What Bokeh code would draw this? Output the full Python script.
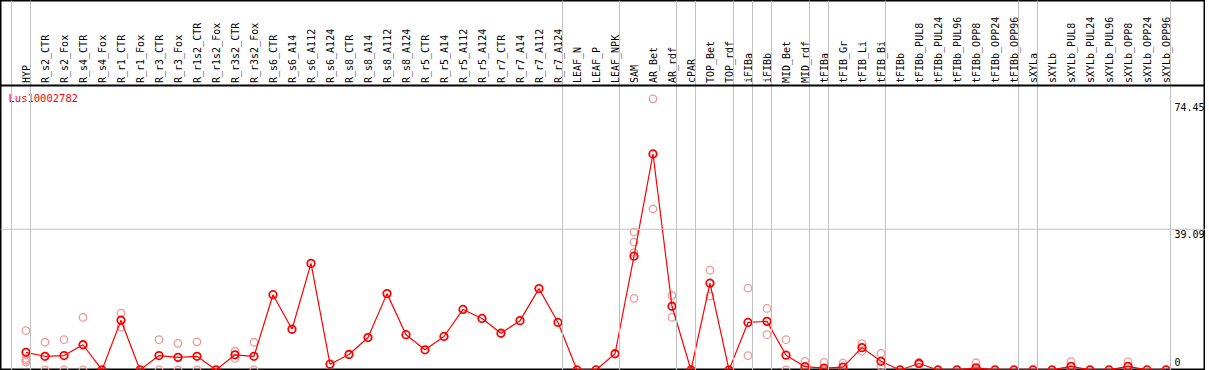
import math
from bokeh.plotting import figure
from bokeh.models import Range1d, Span, ColumnDataSource
from bokeh.core.properties import value
from bokeh.embed import file_html
from bokeh.resources import INLINE

# ---------------- data ----------------
title = "Lus10002782"
categories = [
    "HYP",
    "R_s2_CTR", "R_s2_Fox", "R_s4_CTR", "R_s4_Fox", "R_r1_CTR", "R_r1_Fox",
    "R_r3_CTR", "R_r3_Fox", "R_r1s2_CTR", "R_r1s2_Fox", "R_r3s2_CTR", "R_r3s2_Fox",
    "R_s6_CTR", "R_s6_A14", "R_s6_A112", "R_s6_A124",
    "R_s8_CTR", "R_s8_A14", "R_s8_A112", "R_s8_A124",
    "R_r5_CTR", "R_r5_A14", "R_r5_A112", "R_r5_A124",
    "R_r7_CTR", "R_r7_A14", "R_r7_A112", "R_r7_A124",
    "LEAF_N", "LEAF_P", "LEAF_NPK",
    "SAM", "AR_Bet", "AR_rdf", "cPAR", "TOP_Bet", "TOP_rdf",
    "iFIBa", "iFIBb", "MID_Bet", "MID_rdf",
    "tFIBa", "tFIB_Gr", "tFIB_Li", "tFIB_Bi",
    "tFIBb", "tFIBb_PUL8", "tFIBb_PUL24", "tFIBb_PUL96", "tFIBb_OPP8", "tFIBb_OPP24", "tFIBb_OPP96",
    "sXYLa", "sXYLb", "sXYLb_PUL8", "sXYLb_PUL24", "sXYLb_PUL96", "sXYLb_OPP8", "sXYLb_OPP24", "sXYLb_OPP96",
]
means = [
    4.9,
    3.8, 4.0, 7.0, 0.0, 13.8, 0.0,
    4.0, 3.5, 3.8, 0.0, 4.2, 3.8,
    20.9, 11.3, 29.6, 1.6,
    4.3, 9.0, 21.2, 9.8,
    5.6, 9.3, 16.8, 14.3,
    10.2, 13.7, 22.6, 13.2,
    0.0, 0.0, 4.5,
    31.6, 60.0, 17.7, 0.0, 24.1, 0.0,
    13.2, 13.5, 4.1, 0.9,
    0.5, 0.8, 6.2, 2.4,
    0.0, 1.8, 0.0, 0.0, 0.6, 0.0, 0.0,
    0.0, 0.0, 1.0, 0.0, 0.0, 1.0, 0.0, 0.0,
]
replicates = [
    [10.9, 3.2, 2.7, 2.2],
    [7.7, 0.0], [8.4, 0.0], [14.6, 0.0], [], [15.8, 11.9], [],
    [8.4, 0.0], [7.4, 0.0], [7.8, 0.0], [], [5.2, 3.2], [7.7, 0.0],
    [], [], [], [],
    [], [], [], [],
    [], [], [], [],
    [], [], [], [],
    [], [], [],
    [38.3, 35.5, 32.6, 19.9], [75.3, 44.7], [20.7, 14.6], [], [27.7, 20.5], [],
    [22.7, 4.0], [17.1, 9.8], [8.4, 0.0], [2.4, 0.0],
    [2.1, 0.0], [1.9, 0.0], [7.3, 5.2], [4.6, 1.0],
    [], [2.1, 1.5], [], [], [2.0, 0.0], [], [],
    [], [], [2.3, 0.0], [], [], [2.3, 0.0], [], [],
]
# group separators: after these category indices (-1 = before first)
group_ends = [-1, 0, 28, 31, 34, 35, 37, 38, 39, 41, 42, 45, 52, 53, 60]
tick_values = [74.45, 39.09, 0]
tick_labels = ["74.45", "39.09", "0"]

# ---------------- layout ----------------
W, H = 1205, 370
header_px = 85
plot_px = H - header_px
y_head = 79.0
y_min = -0.15
s = plot_px / (y_head - y_min)          # px per unit
y_top = y_head + header_px / s
x_start = -25.5 / 19.0
x_end = x_start + W / 19.0
sx = W / (x_end - x_start)
sep_off = 4.5 / 19.0

FONT = value("DejaVu Sans Mono")

p = figure(width=W, height=H, x_range=Range1d(x_start, x_end), y_range=Range1d(y_min, y_top),
           output_backend="svg", toolbar_location=None, min_border=0,
           background_fill_color="white", border_fill_color="white")
p.xaxis.visible = False
p.yaxis.visible = False
p.xgrid.visible = False
p.ygrid.visible = False
p.outline_line_color = "black"
p.outline_line_width = 2

# vertical group separators
for g in group_ends:
    p.add_layout(Span(location=g + sep_off, dimension="height", line_color="#c0c0c0", line_width=1))
# horizontal gridline at middle tick
p.add_layout(Span(location=tick_values[1], dimension="width", line_color="#c0c0c0", line_width=1))
# header separator
p.add_layout(Span(location=y_head, dimension="width", line_color="black", line_width=2))

# header labels
xs = list(range(len(categories)))
p.text(x=xs, y=[y_head + 2.5 / s] * len(xs), text=categories, angle=math.pi / 2,
       text_align="left", text_baseline="middle", text_font=FONT, text_font_size="10px",
       text_color="black")

# title
p.text(x=[x_start + 8 / sx], y=[y_head - 6 / s], text=[title], text_align="left", text_baseline="top",
       text_font=FONT, text_font_size="10.5px", text_color="red")

# right tick labels
lx = group_ends[-1] + sep_off + 4 / sx
for v, lab in zip(tick_values, tick_labels):
    if v == 0:
        p.text(x=[lx], y=[v + 3.5 / s], text=[lab], text_align="left", text_baseline="bottom",
               text_font=FONT, text_font_size="10px", text_color="black")
    else:
        p.text(x=[lx], y=[v - 1 / s], text=[lab], text_align="left", text_baseline="top",
               text_font=FONT, text_font_size="10px", text_color="black")

# replicates
rx, ry = [], []
for i, reps in enumerate(replicates):
    for r in reps:
        rx.append(i)
        ry.append(r)
p.scatter(x=rx, y=ry, size=7.5, marker="circle", fill_color=None, line_color="#ee9a9a", line_width=1.3)

# mean line + markers
src = ColumnDataSource(dict(x=xs, y=means))
p.line("x", "y", source=src, line_color="red", line_width=1.2)
p.scatter("x", "y", source=src, size=7.5, marker="circle", fill_color=None, line_color="red", line_width=1.8)

open("out.html", "w").write(file_html(p, INLINE))
